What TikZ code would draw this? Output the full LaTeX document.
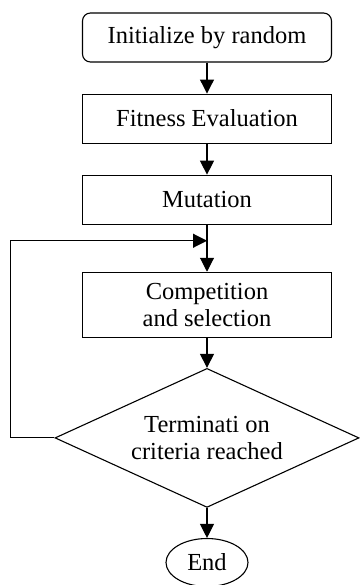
\documentclass[tikz,border=0pt]{standalone}
\usepackage{fontspec}
\setmainfont{Liberation Serif}
\usetikzlibrary{positioning,shapes.geometric,arrows.meta}

\begin{document}
\begin{tikzpicture}[x=1pt, y=1pt, node distance=31pt, font=\fontsize{24.5}{27}\selectfont]
% Define flowchart styles
\tikzstyle{startbox} = [rectangle, rounded corners=8pt, draw=black, line width=1.1pt, text centered, minimum height=49pt, minimum width=249pt]
\tikzstyle{process} = [rectangle, draw=black, line width=1.1pt, text centered, align=center, minimum height=49pt, minimum width=249pt]
\tikzstyle{decision} = [diamond, draw=black, line width=1.1pt, align=center, shape aspect=2.2, minimum width=304pt, minimum height=139pt, inner sep=0pt]
\tikzstyle{stopbox} = [ellipse, draw=black, line width=1.1pt, minimum width=82pt, minimum height=48pt, inner sep=0pt]
\tikzstyle{arrow} = [-{Triangle[length=14pt, width=14pt]}, line width=1.1pt, draw=black]

\useasboundingbox (0,0) rectangle (359,-585);

% Define nodes (steps)
\node[startbox] (Initialize) at (207,-37.5) {Initialize by random};
\node[process, below=of Initialize] (Fitness) {Fitness Evaluation};
\node[process, below=of Fitness] (Mutation) {Mutation};
\node[process, below=47pt of Mutation, minimum height=65pt] (Competition) {Competition\\and selection};
\node[decision, below=30pt of Competition] (Termination) {Terminati on\\criteria reached};
\node[stopbox, below=30pt of Termination] (End) {End};

% Loop back point
\coordinate (LoopJoin) at ([yshift=-16pt]Mutation.south);

% Relationships (arrows)
\draw[arrow] (Initialize) -- (Fitness);
\draw[arrow] (Fitness) -- (Mutation);
\draw[arrow] (Mutation) -- (Competition);
\draw[arrow] (Competition) -- (Termination);
\draw[arrow] (Termination) -- (End);
\draw[arrow] (Termination.west) -- ++(-44,0) |- (LoopJoin);

\end{tikzpicture}
\end{document}
